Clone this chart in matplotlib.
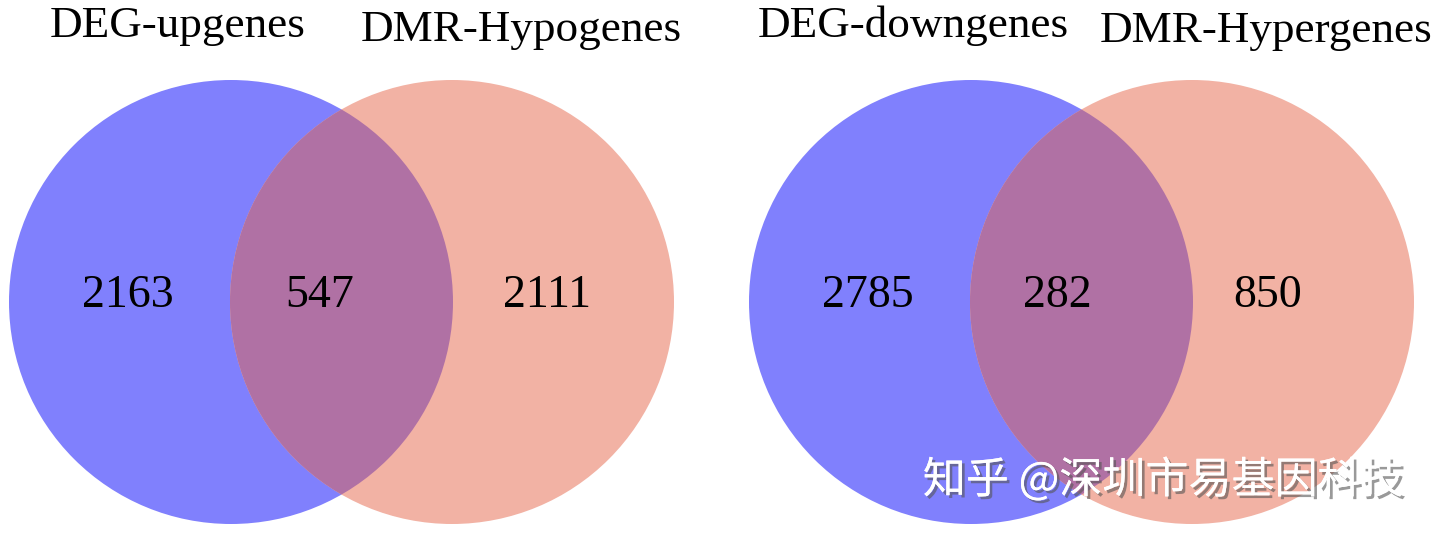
import matplotlib.pyplot as plt
from matplotlib.patches import Circle
import matplotlib.patheffects as pe

# Venn data: set names and region counts (left only, overlap, right only)
left_names = ['DEG-upgenes', 'DMR-Hypogenes']
left_counts = [2163, 547, 2111]
right_names = ['DEG-downgenes', 'DMR-Hypergenes']
right_counts = [2785, 282, 850]
watermark = '知乎 @深圳市易基因科技'

blue = '#8080fd'
pink = '#f2b2a4'
overlap = '#b071a4'

fig = plt.figure(figsize=(14.4, 5.4), dpi=100, facecolor='white')
ax = fig.add_axes([0, 0, 1, 1])
ax.set_xlim(0, 1440)
ax.set_ylim(540, 0)
ax.set_aspect('equal')
ax.axis('off')

radius = 222


def draw_venn(cx_a, cx_b, cy, names, counts, label_x, title_pos):
    c_a = Circle((cx_a, cy), radius, color=blue, lw=0)
    c_b = Circle((cx_b, cy), radius, color=pink, lw=0)
    ax.add_patch(c_a)
    ax.add_patch(c_b)
    # overlap region: blue circle clipped by the pink one
    inter = Circle((cx_a, cy), radius, color=overlap, lw=0)
    ax.add_patch(inter)
    inter.set_clip_path(c_b)

    # region labels
    for x, n in zip(label_x, counts):
        ax.text(x, 307, str(n), ha='center', va='baseline',
                fontsize=33, family='Liberation Serif', color='black')

    for (tx, ty), name in zip(title_pos, names):
        ax.text(tx, ty, name, ha='center', va='baseline',
                fontsize=32.5, family='Liberation Serif', color='black')


draw_venn(231, 452, 302, left_names, left_counts, [128, 320, 547],
          [(178, 37), (521, 41)])
draw_venn(971, 1192, 302, right_names, right_counts, [868, 1057, 1268],
          [(913, 37), (1266, 42)])

# watermark
ax.text(1163, 481, watermark, ha='center', va='center', fontsize=31,
        family=['Noto Sans CJK SC', 'DejaVu Sans'], color='white',
        path_effects=[pe.withSimplePatchShadow(offset=(2, -2), shadow_rgbFace='#555555', alpha=0.6),
                      pe.Normal()])

fig.savefig('out.png', dpi=100, facecolor='white')
